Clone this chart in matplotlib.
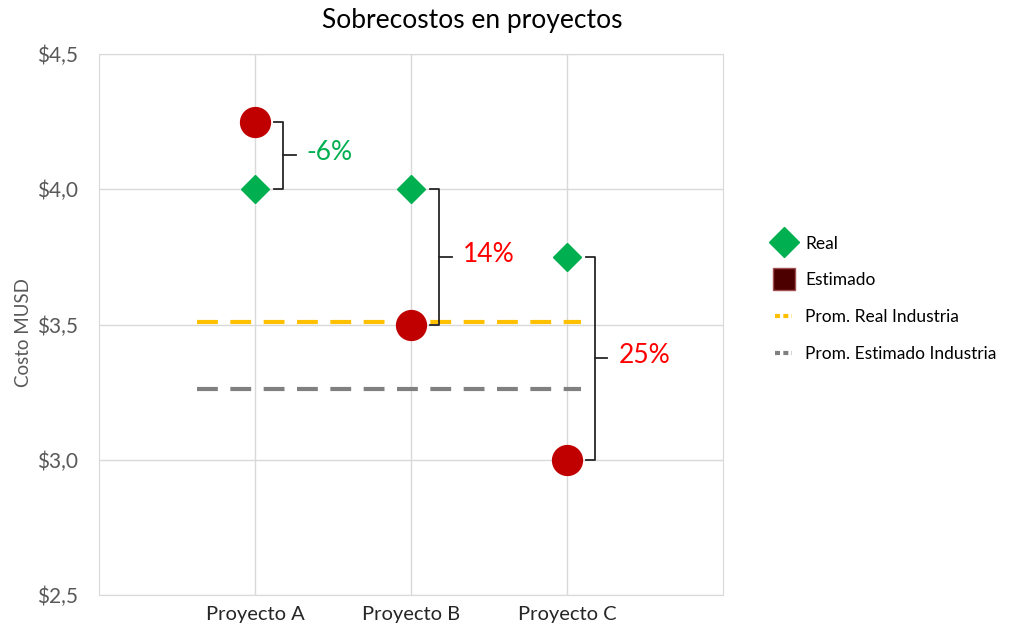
import matplotlib.pyplot as plt
from matplotlib.lines import Line2D
from matplotlib.ticker import FuncFormatter

plt.rcParams['font.family'] = ['Lato', 'DejaVu Sans']

proyectos = ['Proyecto A', 'Proyecto B', 'Proyecto C']
real = [4.0, 4.0, 3.75]
estimado = [4.25, 3.5, 3.0]
prom_real = 3.51
prom_estimado = 3.26
x = [1, 2, 3]

fig = plt.figure(figsize=(10.11, 6.32), dpi=100)
ax = fig.add_axes([0.098, 0.0585, 0.617, 0.856])

gris = '#D9D9D9'
ax.set_xlim(0, 4)
ax.set_ylim(2.5, 4.5)
ax.set_yticks([2.5, 3.0, 3.5, 4.0, 4.5])
ax.set_xticks(x)
ax.set_xticklabels(proyectos)
ax.grid(True, color=gris, linewidth=1, zorder=0)
ax.set_axisbelow(True)
for s in ax.spines.values():
    s.set_color(gris)
ax.tick_params(length=0)
ax.tick_params(axis='y', pad=15, labelsize=15, labelcolor='#595959')
ax.tick_params(axis='x', pad=8, labelsize=14.5, labelcolor='#262626')
ax.yaxis.set_major_formatter(FuncFormatter(lambda v, p: ('$%.1f' % v).replace('.', ',')))
ax.set_ylabel('Costo MUSD', fontsize=13.5, color='#595959')
ax.yaxis.set_label_coords(-0.108, 0.485)

# promedios de la industria
ax.plot([0.63, 3.09], [prom_real, prom_real], color='#FFC000', lw=3,
        dashes=(5, 3), zorder=2)
ax.plot([0.63, 3.09], [prom_estimado, prom_estimado], color='#808080', lw=3,
        dashes=(5, 3), zorder=2)

ax.plot(x, real, 'D', color='#00B050', markersize=14.5, zorder=4)
ax.plot(x, estimado, 'o', color='#C00000', markersize=21.5, zorder=4)

# llaves con la diferencia real vs estimado
for xi, r, e in zip(x, real, estimado):
    bx = xi + 0.18
    hi, lo = max(r, e), min(r, e)
    mid = (hi + lo) / 2
    ax.plot([bx - 0.06, bx, bx, bx - 0.06], [hi, hi, lo, lo],
            color='#262626', lw=1.3, solid_joinstyle='round', zorder=3)
    ax.plot([bx, bx + 0.08], [mid, mid], color='#262626', lw=1.3, zorder=3)
    pct = (r - e) / e * 100
    col = '#00B050' if pct < 0 else '#FF0000'
    ax.text(bx + 0.15, mid + 0.01, '%d%%' % round(pct), color=col, fontsize=19,
            va='center', ha='left')

fig.suptitle('Sobrecostos en proyectos', x=0.467, y=0.988, fontsize=19)

handles = [
    Line2D([], [], marker='D', ls='none', color='#00B050', markersize=15),
    Line2D([], [], marker='s', ls='none', markerfacecolor='#4D0000',
           markeredgecolor='#A05050', markersize=16),
    Line2D([], [], color='#FFC000', lw=3, dashes=(1.2, 0.8)),
    Line2D([], [], color='#808080', lw=3, dashes=(1.2, 0.8)),
]
labels = ['Real', 'Estimado', 'Prom. Real Industria', 'Prom. Estimado Industria']
fig.legend(handles, labels, loc='upper left', bbox_to_anchor=(0.751, 0.652),
           frameon=False, fontsize=12.5, handlelength=1.0, handletextpad=0.75,
           labelspacing=1.2)

fig.savefig('out.png', dpi=100)
